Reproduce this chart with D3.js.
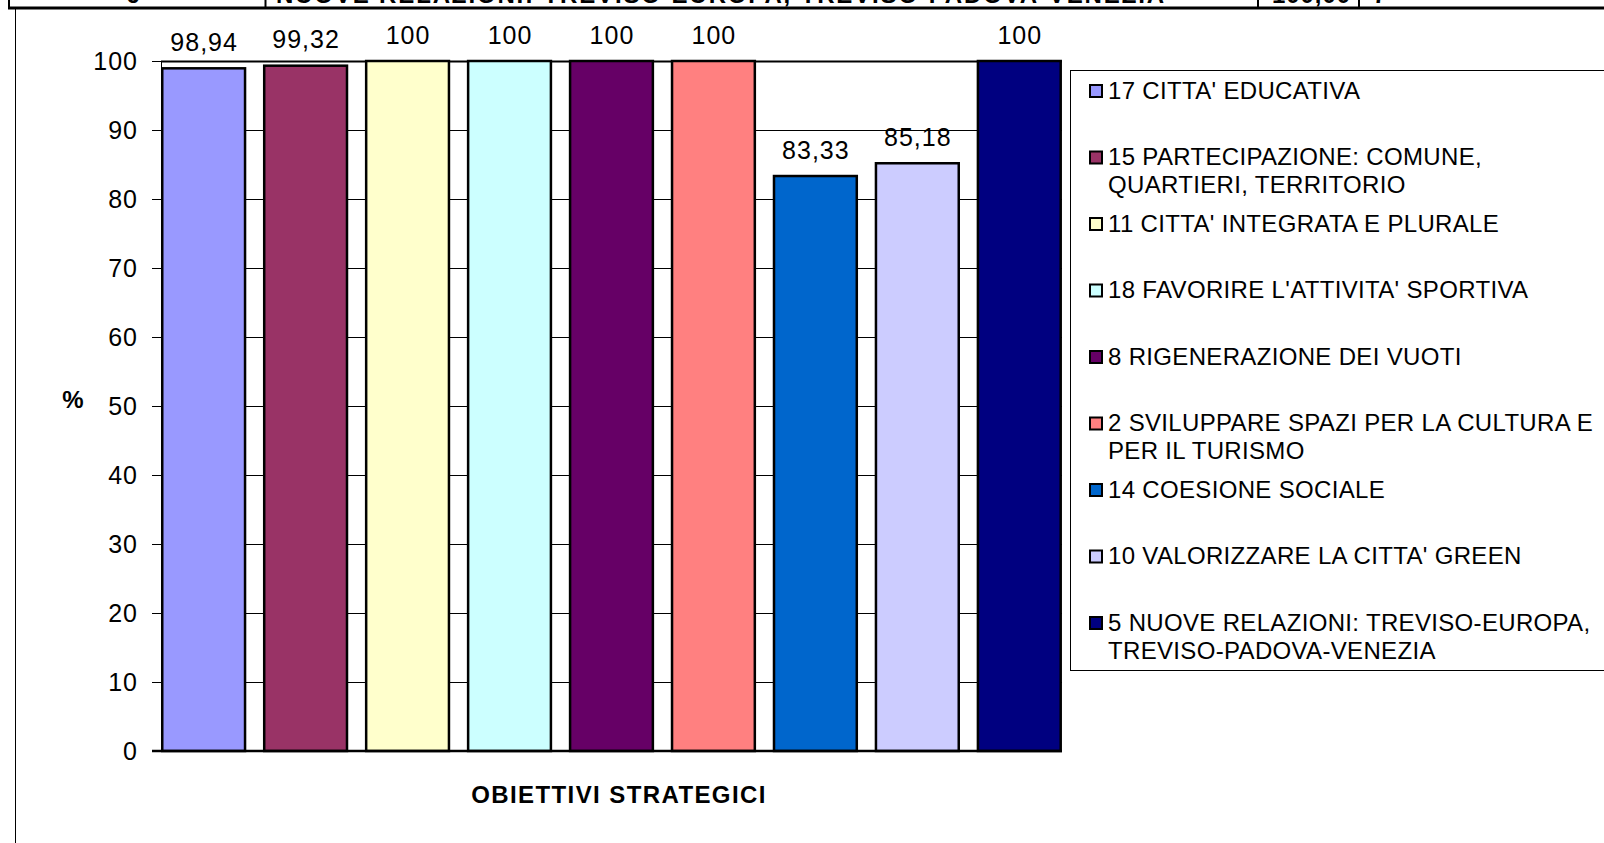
<!DOCTYPE html>
<html>
<head>
<meta charset="utf-8">
<script src="https://cdn.jsdelivr.net/npm/d3@7"></script>
<style>
  body { margin: 0; background: #fff; }
  text { font-family: "Liberation Sans", Arial, sans-serif; fill: #000; }
</style>
</head>
<body>
<script>
'use strict'

var width = 1604
var height = 843

// data
var categories = [
  "17 CITTA' EDUCATIVA",
  "15 PARTECIPAZIONE: COMUNE, QUARTIERI, TERRITORIO",
  "11 CITTA' INTEGRATA E PLURALE",
  "18 FAVORIRE L'ATTIVITA' SPORTIVA",
  "8 RIGENERAZIONE DEI VUOTI",
  "2 SVILUPPARE SPAZI PER LA CULTURA E PER IL TURISMO",
  "14 COESIONE SOCIALE",
  "10 VALORIZZARE LA CITTA' GREEN",
  "5 NUOVE RELAZIONI: TREVISO-EUROPA, TREVISO-PADOVA-VENEZIA"
]
var legendLines = [
  ["17 CITTA' EDUCATIVA"],
  ["15 PARTECIPAZIONE: COMUNE,", "QUARTIERI, TERRITORIO"],
  ["11 CITTA' INTEGRATA E PLURALE"],
  ["18 FAVORIRE L'ATTIVITA' SPORTIVA"],
  ["8 RIGENERAZIONE DEI VUOTI"],
  ["2 SVILUPPARE SPAZI PER LA CULTURA E", "PER IL TURISMO"],
  ["14 COESIONE SOCIALE"],
  ["10 VALORIZZARE LA CITTA' GREEN"],
  ["5 NUOVE RELAZIONI: TREVISO-EUROPA,", "TREVISO-PADOVA-VENEZIA"]
]
var values = [98.94, 99.32, 100, 100, 100, 100, 83.33, 85.18, 100]
var valueLabels = ["98,94", "99,32", "100", "100", "100", "100", "83,33", "85,18", "100"]
var colors = ["#9999FF", "#993366", "#FFFFCC", "#CCFFFF", "#660066", "#FF8080", "#0066CC", "#CCCCFF", "#000080"]
var yTicks = [0, 10, 20, 30, 40, 50, 60, 70, 80, 90, 100]
var tableRow = ["6", "NUOVE RELAZIONI: TREVISO-EUROPA, TREVISO-PADOVA-VENEZIA", "100,00", "7"]

var x = d3.scaleBand()
  .domain(categories)
  .range([162.25, 1060.7])
  .paddingInner(0.188)
  .paddingOuter(0)
var y = d3.scaleLinear()
  .domain([0, 100])
  .range([751, 61])

var svg = d3.select("body")
  .append("svg")
  .attr("width", width)
  .attr("height", height)

drawTableRow()
drawFrame()
drawGrid()
drawBars()
drawAxis()
drawLegend()

function drawTableRow() {
  // bottom of a table row cut off by the top edge
  var g = svg.append("g")
  var clip = svg.append("clipPath").attr("id", "rowclip")
  clip.append("rect").attr("x", 0).attr("y", 0).attr("width", width).attr("height", 7)
  var t = g.append("g").attr("clip-path", "url(#rowclip)")
  t.append("text").attr("x", 133).attr("y", 3).attr("text-anchor", "middle")
    .style("font-size", "24px").style("font-weight", "bold").text(tableRow[0])
  t.append("text").attr("x", 276).attr("y", 3)
    .attr("textLength", 888).attr("lengthAdjust", "spacing")
    .style("font-size", "24px").style("font-weight", "bold").text(tableRow[1])
  t.append("text").attr("x", 1272).attr("y", 3)
    .attr("textLength", 78).attr("lengthAdjust", "spacing")
    .style("font-size", "24px").style("font-weight", "bold").text(tableRow[2])
  t.append("text").attr("x", 1373).attr("y", 3)
    .style("font-size", "24px").style("font-weight", "bold").text(tableRow[3])

  var cols = [9, 265.5, 1258, 1359]
  g.selectAll("line.col")
    .data(cols)
    .enter()
    .append("line")
    .attr("x1", d => d).attr("x2", d => d)
    .attr("y1", 0).attr("y2", 7)
    .attr("stroke", "#000").attr("stroke-width", 2)
  g.append("line")
    .attr("x1", 8).attr("x2", width)
    .attr("y1", 8).attr("y2", 8)
    .attr("stroke", "#000").attr("stroke-width", 3)
}

function drawFrame() {
  svg.append("line")
    .attr("x1", 15.5).attr("x2", 15.5)
    .attr("y1", 9).attr("y2", height)
    .attr("stroke", "#000").attr("stroke-width", 1)
}

function drawGrid() {
  var grid = svg.append("g")
  grid.selectAll("line")
    .data(yTicks.filter(d => d > 0))
    .enter()
    .append("line")
    .attr("x1", 161).attr("x2", 1062)
    .attr("y1", d => Math.round(y(d)) + 0.5)
    .attr("y2", d => Math.round(y(d)) + 0.5)
    .attr("stroke", "#000")
    .attr("stroke-width", d => d == 100 ? 2 : 1)
}

function drawBars() {
  var bars = svg.append("g")
  bars.selectAll("rect")
    .data(values)
    .enter()
    .append("rect")
    .attr("x", (d, i) => x(categories[i]))
    .attr("y", d => y(d))
    .attr("width", x.bandwidth())
    .attr("height", d => y(0) - y(d))
    .attr("fill", (d, i) => colors[i])
    .attr("stroke", "#000")
    .attr("stroke-width", 2.5)

  bars.selectAll("text")
    .data(values)
    .enter()
    .append("text")
    .attr("x", (d, i) => x(categories[i]) + x.bandwidth() / 2 + 0.5)
    .attr("y", d => y(d) - 17.5)
    .attr("text-anchor", "middle")
    .style("font-size", "25px")
    .style("letter-spacing", "1px")
    .text((d, i) => valueLabels[i])
}

function drawAxis() {
  var axis = svg.append("g")
    .attr("transform", "translate(161,0)")
    .call(d3.axisLeft(y).tickValues(yTicks).tickSize(9).tickPadding(14).tickFormat(d3.format("d")))
  axis.select(".domain").attr("stroke", "#000").attr("stroke-width", 1)
  axis.selectAll(".tick line").attr("stroke", "#000")
  axis.selectAll(".tick text")
    .style("font-size", "25px")
    .style("letter-spacing", "1px")
    .style("font-family", "'Liberation Sans', Arial, sans-serif")
    .attr("fill", "#000")

  svg.append("line")
    .attr("x1", 152).attr("x2", 1062)
    .attr("y1", y(0)).attr("y2", y(0))
    .attr("stroke", "#000").attr("stroke-width", 2.5)

  svg.append("text")
    .attr("x", 73).attr("y", 408)
    .attr("text-anchor", "middle")
    .style("font-size", "24px").style("font-weight", "bold")
    .text("%")

  svg.append("text")
    .attr("x", 619).attr("y", 803)
    .attr("text-anchor", "middle")
    .style("font-size", "24px").style("font-weight", "bold")
    .style("letter-spacing", "1.4px")
    .text("OBIETTIVI STRATEGICI")
}

function drawLegend() {
  var legend = svg.append("g")
  legend.append("rect")
    .attr("x", 1070.5).attr("y", 70.5)
    .attr("width", 560).attr("height", 600)
    .attr("fill", "#fff").attr("stroke", "#000").attr("stroke-width", 1)

  var items = legend.selectAll("g.item")
    .data(legendLines)
    .enter()
    .append("g")
    .attr("class", "item")
    .attr("transform", (d, i) => "translate(0," + (90 + i * 66.5) + ")")

  items.append("rect")
    .attr("x", 1090).attr("y", -5)
    .attr("width", 12).attr("height", 12)
    .attr("fill", (d, i) => colors[i])
    .attr("stroke", "#000").attr("stroke-width", 2)

  items.selectAll("text")
    .data(d => d)
    .enter()
    .append("text")
    .attr("x", 1108)
    .attr("y", (d, j) => j * 28 + 8.5)
    .style("font-size", "24px")
    .style("letter-spacing", "0.33px")
    .text(d => d)
}
</script>
</body>
</html>
